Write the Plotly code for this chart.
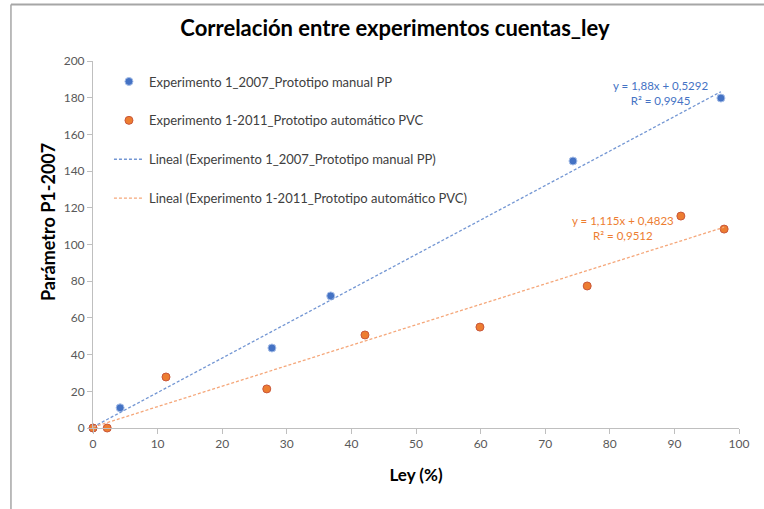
import numpy as np
import plotly.graph_objects as go

# Experiment 1 (2007, manual PP prototype)
ley_2007 = [0.0, 4.2, 27.7, 36.8, 74.3, 97.2]
p1_2007 = [0.0, 11.0, 43.6, 72.0, 145.5, 179.8]

# Experiment 1 (2011, automatic PVC prototype)
ley_2011 = [0.0, 2.2, 11.3, 26.9, 42.1, 59.9, 76.5, 91.0, 97.7]
p1_2011 = [0.0, 0.0, 27.8, 21.3, 50.7, 55.0, 77.4, 115.5, 108.4]

# Linear trend coefficients (slope, intercept, R²)
fit_2007 = (1.88, 0.5292, 0.9945)
fit_2011 = (1.115, 0.4823, 0.9512)

x_ticks = list(range(0, 101, 10))
y_ticks = list(range(0, 201, 20))

name_2007 = "Experimento 1_2007_Prototipo manual PP"
name_2011 = "Experimento 1-2011_Prototipo automático PVC"

BLUE = "#4472C4"
ORANGE = "#ED7D31"
FONT = "Lato"


def trend(xs, fit):
    xx = np.array([min(xs), max(xs)])
    return xx, fit[0] * xx + fit[1]


def fmt(v):
    return f"{v}".replace(".", ",")


fig = go.Figure()

fig.add_trace(go.Scatter(
    x=ley_2007, y=p1_2007, mode="markers", name=name_2007,
    legendgroup="a", legendrank=1, cliponaxis=False,
    marker=dict(size=8, color=BLUE, line=dict(color="#A9C0E8", width=1)),
))
fig.add_trace(go.Scatter(
    x=ley_2011, y=p1_2011, mode="markers", name=name_2011,
    legendgroup="b", legendrank=2, cliponaxis=False,
    marker=dict(size=8, color=ORANGE, line=dict(color="#C9573A", width=1)),
))

tx, ty = trend(ley_2007, fit_2007)
fig.add_trace(go.Scatter(
    x=tx, y=ty, mode="lines", name=f"Lineal ({name_2007})",
    legendgroup="c", legendrank=3,
    line=dict(color="#7396D3", width=1.3, dash="3px,2px"),
))
tx2, ty2 = trend(ley_2011, fit_2011)
fig.add_trace(go.Scatter(
    x=tx2, y=ty2, mode="lines", name=f"Lineal ({name_2011})",
    legendgroup="d", legendrank=4,
    line=dict(color="#F5A77A", width=1.3, dash="3px,2px"),
))

# Trendline equations
fig.add_annotation(
    x=87.9, y=182.3, xref="x", yref="y", showarrow=False, align="center",
    text=f"y = {fmt(fit_2007[0])}x + {fmt(fit_2007[1])}<br>R² = {fmt(fit_2007[2])}",
    font=dict(family=FONT, size=11.5, color=BLUE),
)
fig.add_annotation(
    x=82.0, y=109.0, xref="x", yref="y", showarrow=False, align="center",
    text=f"y = {fmt(fit_2011[0])}x + {fmt(fit_2011[1])}<br>R² = {fmt(fit_2011[2])}",
    font=dict(family=FONT, size=11.5, color=ORANGE),
)

# Vertical axis title (pixel position converted to paper units)
fig.add_annotation(
    x=(35 - 93) / 646, y=(428 - 222) / 367, xref="paper", yref="paper",
    showarrow=False, text="<b>Parámetro P1-2007</b>", textangle=-90,
    font=dict(family=FONT, size=18, color="#000000"),
)

# Chart frame edges (top and left)
fig.add_shape(type="line", xref="paper", yref="paper",
              x0=-0.127, x1=1.2, y0=1.154, y1=1.154,
              line=dict(color="#A6A6A6", width=2))
fig.add_shape(type="line", xref="paper", yref="paper",
              x0=-0.127, x1=-0.127, y0=1.154, y1=-0.3,
              line=dict(color="#A6A6A6", width=1.5))

fig.update_layout(
    width=764, height=509,
    margin=dict(l=93, r=25, t=61, b=81),
    paper_bgcolor="white", plot_bgcolor="white",
    font=dict(family=FONT, color="#404040"),
    title=dict(text="<b>Correlación entre experimentos cuentas_ley</b>",
               x=0.517, xanchor="center", y=0.945, yanchor="middle",
               font=dict(family=FONT, size=22, color="#000000")),
    legend=dict(x=0.0247, y=0.985, xanchor="left", yanchor="top",
                bgcolor="rgba(0,0,0,0)", tracegroupgap=19,
                font=dict(family=FONT, size=13, color="#404040")),
    showlegend=True,
)
fig.update_xaxes(
    range=[0, 100], tickvals=x_ticks, showgrid=False, zeroline=False,
    showline=True, linecolor="#BFBFBF", linewidth=1,
    ticks="outside", ticklen=5, tickcolor="#BFBFBF",
    tickfont=dict(family=FONT, size=12, color="#595959"),
    title=dict(text="<b>Ley (%)</b>", standoff=18,
               font=dict(family=FONT, size=17, color="#000000")),
)
fig.update_yaxes(
    range=[0, 200], tickvals=y_ticks, showgrid=False, zeroline=False,
    showline=True, linecolor="#BFBFBF", linewidth=1,
    ticks="outside", ticklen=5, tickcolor="#BFBFBF",
    tickfont=dict(family=FONT, size=12, color="#595959"),
)

fig.write_html("out.html")
